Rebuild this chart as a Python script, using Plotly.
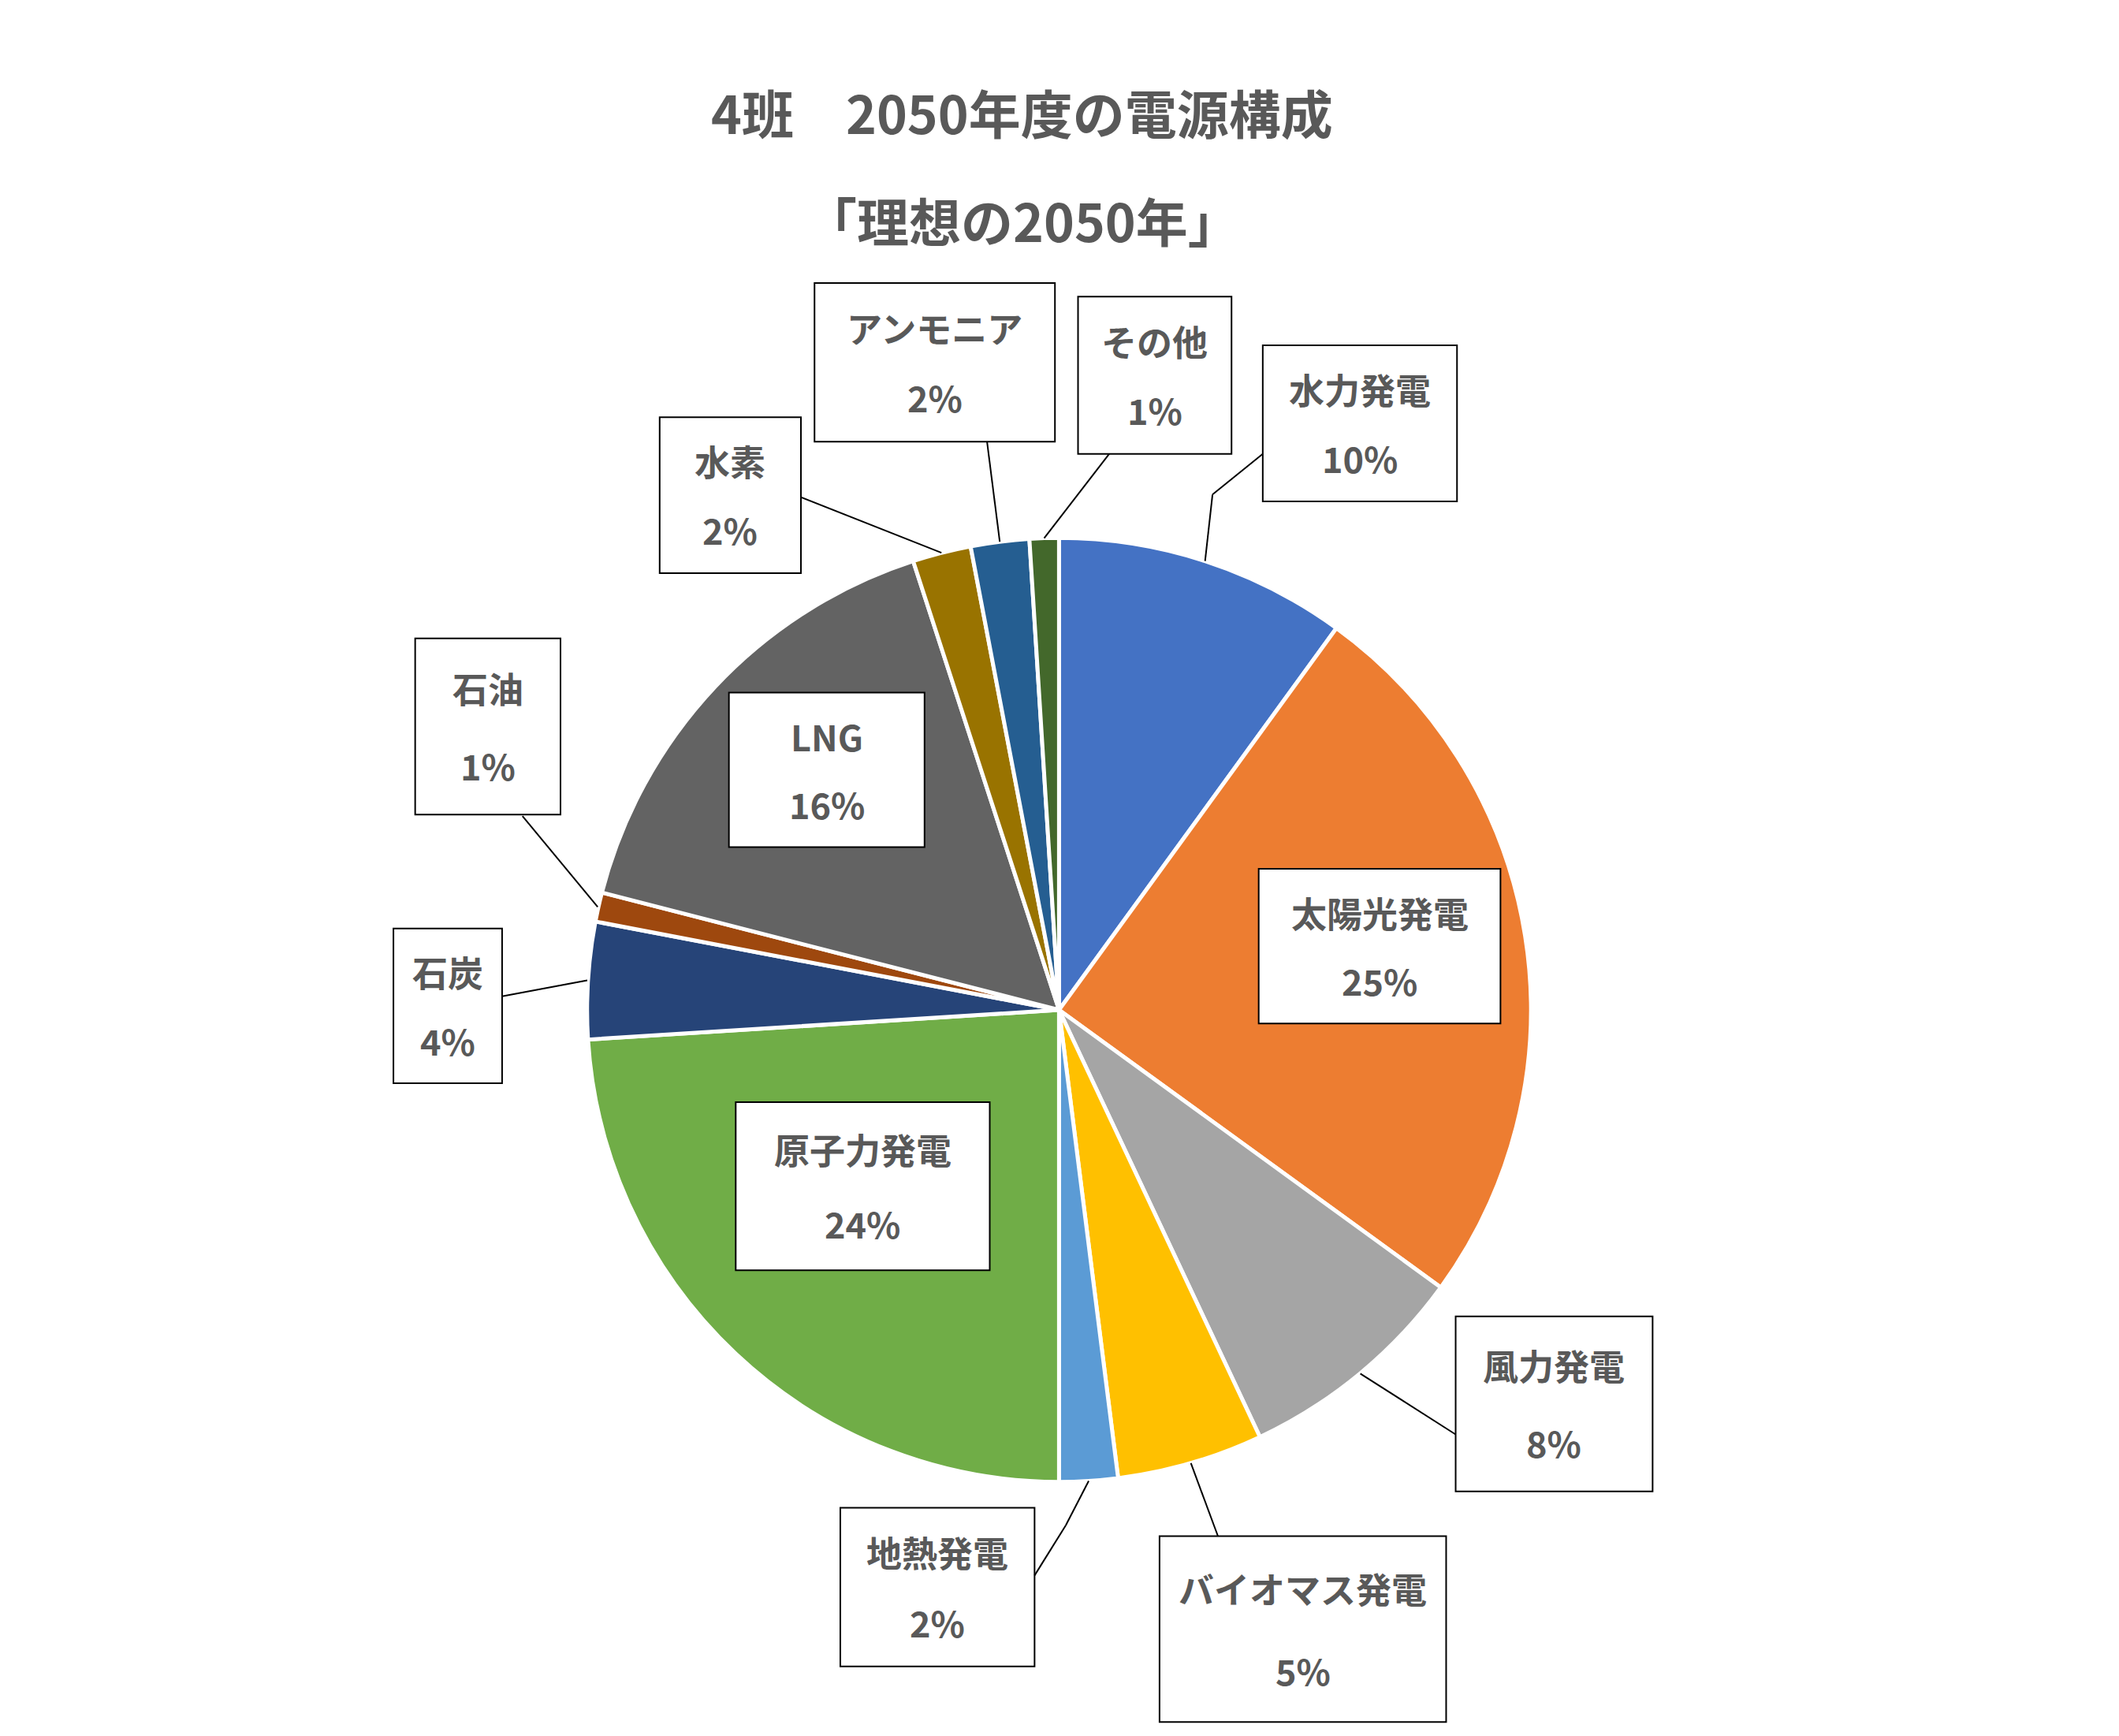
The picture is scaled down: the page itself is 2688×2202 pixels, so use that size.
import math
import plotly.graph_objects as go

labels = ["水力発電", "太陽光発電", "風力発電", "バイオマス発電", "地熱発電", "原子力発電",
          "石炭", "石油", "LNG", "水素", "アンモニア", "その他"]
values = [10, 25, 8, 5, 2, 24, 4, 1, 16, 2, 2, 1]
colors = ["#4472C4", "#ED7D31", "#A5A5A5", "#FFC000", "#5B9BD5", "#70AD47",
          "#264478", "#9E480E", "#636363", "#997300", "#255E91", "#43682B"]

# layout helpers (reference units 1560x1280)
W, H = 1560.0, 1280.0
CX, CY, R = 775.0, 740.0, 348.0
px = lambda x: x / W
py = lambda y: 1 - y / H

# label boxes: (x0, y0, x1, y1) and leader path after slice point
boxes = [
    (925, 250, 1068, 365, [(888, 360), (925, 330)]),
    (922, 636, 1100, 750, None),
    (1067, 966, 1212, 1095, [(1067, 1053)]),
    (849, 1128, 1060, 1265, [(892, 1128)]),
    (614, 1107, 757, 1224, [(780, 1120), (757, 1157)]),
    (537, 808, 724, 932, None),
    (285, 680, 365, 794, [(365, 730)]),
    (301, 466, 408, 596, [(380, 597)]),
    (532, 506, 676, 620, None),
    (481, 303, 585, 418, [(585, 362)]),
    (595, 204, 772, 321, [(722, 321)]),
    (789, 214, 902, 330, [(812, 330)]),
]

fig = go.Figure(go.Pie(
    labels=labels, values=values, sort=False, direction="clockwise", rotation=0,
    marker=dict(colors=colors, line=dict(color="white", width=5)),
    textinfo="none", hoverinfo="label+percent", showlegend=False,
    domain=dict(x=[(CX - R) / W, (CX + R) / W], y=[1 - (CY + R) / H, 1 - (CY - R) / H]),
))

shapes, annots = [], []
total = sum(values)
cum = 0
font = dict(family="Noto Sans CJK JP", size=45, color="#595959")
for lab, v, (x0, y0, x1, y1, path) in zip(labels, values, boxes):
    mid = (cum + v / 2) / total * 2 * math.pi
    cum += v
    shapes.append(dict(type="rect", xref="paper", yref="paper",
                       x0=px(x0), x1=px(x1), y0=py(y1), y1=py(y0),
                       line=dict(color="black", width=2), fillcolor="white"))
    xc = (x0 + x1) / 2
    h = y1 - y0
    annots.append(dict(text="<b>%s</b>" % lab, x=px(xc), y=py(y0 + h * 0.28), xref="paper", yref="paper",
                       showarrow=False, font=font, xanchor="center", yanchor="middle"))
    annots.append(dict(text="<b>%d%%</b>" % round(v / total * 100), x=px(xc), y=py(y0 + h * 0.72),
                       xref="paper", yref="paper", showarrow=False, font=font,
                       xanchor="center", yanchor="middle"))
    if path:
        pts = [(CX + R * math.sin(mid), CY - R * math.cos(mid))] + path
        for (a, b), (c, d) in zip(pts[:-1], pts[1:]):
            shapes.append(dict(type="line", xref="paper", yref="paper",
                               x0=px(a), y0=py(b), x1=px(c), y1=py(d),
                               line=dict(color="black", width=2)))

annots.append(dict(text="<b>4班　2050年度の電源構成</b>", x=px(748), y=py(48), xref="paper", yref="paper",
                   showarrow=False, font=dict(family="Noto Sans CJK JP", size=66, color="#595959")))
annots.append(dict(text="<b>「理想の2050年」</b>", x=px(748), y=py(128), xref="paper", yref="paper",
                   showarrow=False, font=dict(family="Noto Sans CJK JP", size=66, color="#595959")))

fig.update_layout(width=2688, height=2202, margin=dict(l=0, r=0, t=0, b=0),
                  paper_bgcolor="white", plot_bgcolor="white",
                  shapes=shapes, annotations=annots)
fig.write_html("out.html")
